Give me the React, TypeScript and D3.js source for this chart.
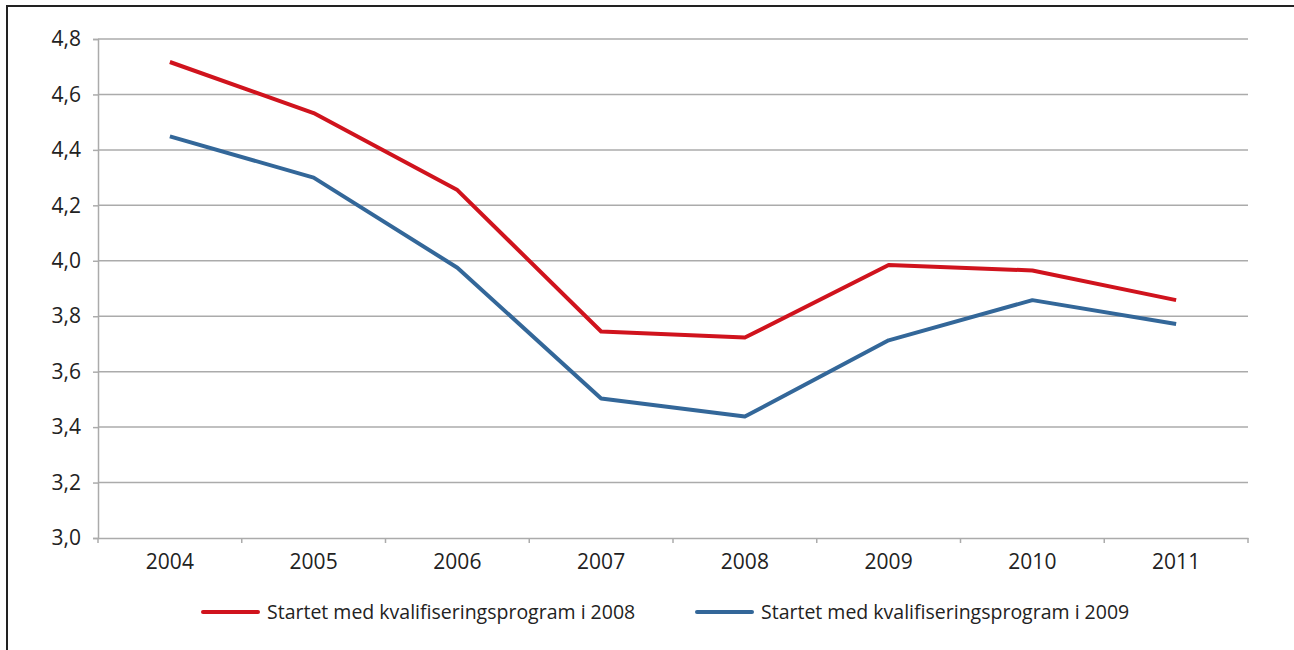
import * as d3 from 'd3';
import { useEffect, useRef } from 'react';

const years = ['2004', '2005', '2006', '2007', '2008', '2009', '2010', '2011'];
const started2008 = [4.717, 4.533, 4.255, 3.745, 3.723, 3.985, 3.965, 3.858];
const started2009 = [4.449, 4.3, 3.975, 3.503, 3.438, 3.713, 3.858, 3.772];
const yTicks = [3.0, 3.2, 3.4, 3.6, 3.8, 4.0, 4.2, 4.4, 4.6, 4.8];
const seriesNames = [
  'Startet med kvalifiseringsprogram i 2008',
  'Startet med kvalifiseringsprogram i 2009',
];
const colors = ['#d0131d', '#336799'];

export default function App() {
  const ref = useRef<SVGSVGElement>(null);

  useEffect(() => {
    if (!ref.current) return;
    const W = 1294,
      H = 650;
    const margin = { top: 39, right: 46, bottom: 112, left: 98 };
    const width = W - margin.left - margin.right,
      height = H - margin.top - margin.bottom;
    const font = '"Open Sans", "DejaVu Sans", sans-serif';

    const root = d3.select(ref.current);
    root.selectAll('*').remove();

    // frame (opens past the right and bottom edges)
    root
      .append('rect')
      .attr('x', 7)
      .attr('y', 6)
      .attr('width', W + 20)
      .attr('height', H + 20)
      .attr('fill', 'white')
      .attr('stroke', '#222')
      .attr('stroke-width', 2);

    const svg = root.append('g').attr('transform', `translate(${margin.left},${margin.top})`);

    const x = d3.scaleBand().domain(years).range([0, width]);
    const y = d3.scaleLinear().domain([3.0, 4.8]).range([height, 0]);

    // grid
    svg
      .append('g')
      .selectAll('line')
      .data(yTicks.slice(1))
      .join('line')
      .attr('x1', 0)
      .attr('x2', width)
      .attr('y1', (d) => y(d))
      .attr('y2', (d) => y(d))
      .attr('stroke', '#ababab')
      .attr('stroke-width', 1.5);

    // y axis
    const yAxis = d3
      .axisLeft(y)
      .tickValues(yTicks)
      .tickSize(5)
      .tickPadding(12)
      .tickFormat((d) => d3.format('.1f')(d as number).replace('.', ','));
    const gy = svg.append('g').call(yAxis);
    gy.selectAll('path, line').attr('stroke', '#ababab').attr('stroke-width', 1.5);
    gy.selectAll('text')
      .attr('font-family', font)
      .attr('font-size', 21)
      .attr('fill', '#222');

    // x axis
    const xAxis = d3.axisBottom(x).tickSize(0).tickPadding(16);
    const gx = svg.append('g').attr('transform', `translate(0,${height})`).call(xAxis);
    gx.select('.domain').attr('stroke', '#ababab').attr('stroke-width', 1.5);
    gx.selectAll('text')
      .attr('font-family', font)
      .attr('font-size', 21)
      .attr('fill', '#222');
    // tick marks at band boundaries
    gx.selectAll('.bound')
      .data(d3.range(years.length + 1))
      .join('line')
      .attr('x1', (i) => i * x.bandwidth())
      .attr('x2', (i) => i * x.bandwidth())
      .attr('y1', 0)
      .attr('y2', 5)
      .attr('stroke', '#ababab')
      .attr('stroke-width', 1.5);

    // lines
    const line = d3
      .line<number>()
      .x((_, i) => (x(years[i]) ?? 0) + x.bandwidth() / 2)
      .y((d) => y(d));
    [started2008, started2009].forEach((s, k) => {
      svg
        .append('path')
        .datum(s)
        .attr('d', line)
        .attr('fill', 'none')
        .attr('stroke', colors[k])
        .attr('stroke-width', 4)
        .attr('stroke-linejoin', 'round');
    });

    // legend
    const legendX = [203, 697];
    const legend = root.append('g');
    seriesNames.forEach((name, k) => {
      const g = legend.append('g').attr('transform', `translate(${legendX[k]},612)`);
      g.append('line')
        .attr('x1', 0)
        .attr('x2', 55)
        .attr('stroke', colors[k])
        .attr('stroke-width', 4)
        .attr('stroke-linecap', 'round');
      g.append('text')
        .text(name)
        .attr('x', 64)
        .attr('dy', '0.35em')
        .attr('font-family', font)
        .attr('font-size', 19.5)
        .attr('fill', '#222');
    });
  }, []);

  return (
    <svg
      ref={ref}
      width={1294}
      height={650}
      style={{ position: 'absolute', left: 0, top: 0, background: 'white' }}
    />
  );
}
